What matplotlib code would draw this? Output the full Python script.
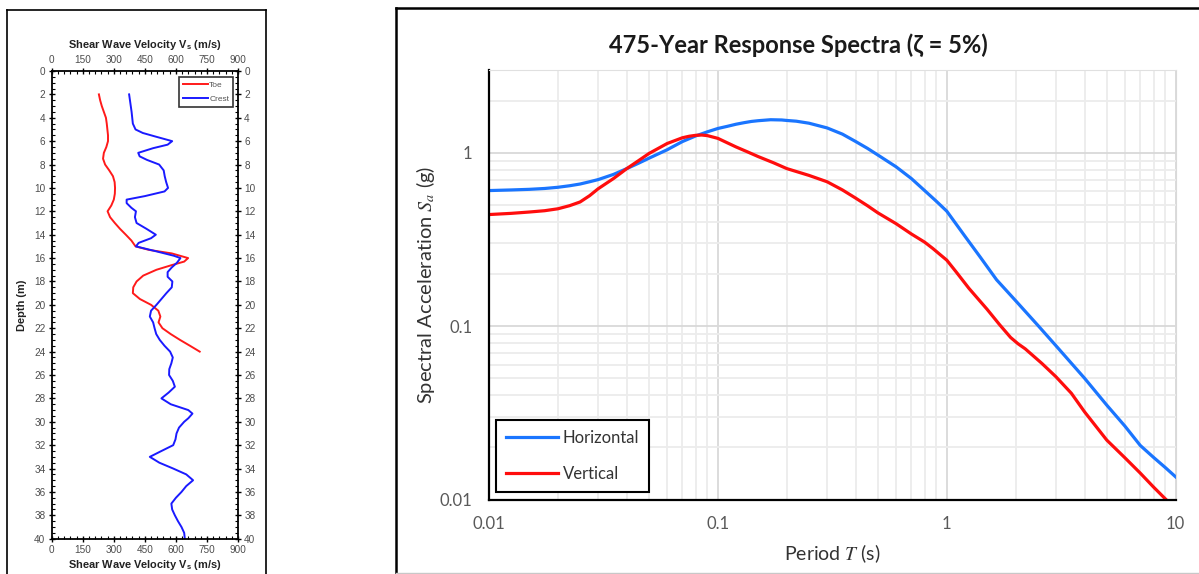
"""Shear wave velocity profile + 475-year response spectra (two-panel composite)."""

import matplotlib
matplotlib.use("Agg")
import matplotlib.pyplot as plt
from matplotlib.lines import Line2D
from matplotlib.ticker import FixedLocator, NullFormatter, MultipleLocator

plt.rcParams["mathtext.fontset"] = "custom"
plt.rcParams["mathtext.it"] = "STIXGeneral:italic"
plt.rcParams["mathtext.rm"] = "Lato"
plt.rcParams["mathtext.bf"] = "Liberation Sans:bold"

# === Vs profile (left) ===
depth_toe = [2, 2.5, 3, 3.5, 4, 4.5, 5, 5.5, 6, 6.5, 7, 7.5, 8, 8.5, 9, 9.5, 10, 10.5,
             11, 11.5, 12, 12.5, 13, 13.5, 14, 14.5, 15, 15.3, 15.6, 16, 16.3, 16.6,
             17, 17.5, 18, 18.5, 19, 19.5, 20, 20.5, 21, 21.5, 22, 22.5, 23, 23.5, 24]
vs_toe = [228, 234, 242, 252, 262, 266, 269, 272, 272, 264, 252, 248, 258, 278, 296,
          304, 306, 305, 300, 288, 270, 282, 305, 330, 358, 385, 405, 470, 580, 659,
          640, 580, 506, 442, 410, 394, 392, 426, 480, 515, 525, 516, 535, 575, 620,
          668, 715]

depth_crest = [2, 2.5, 3, 3.5, 4, 4.5, 5, 5.3, 5.6, 6, 6.3, 6.6, 7, 7.3, 7.6, 8, 8.5, 9,
               9.5, 10, 10.3, 10.7, 11, 11.3, 11.7, 12, 12.5, 13, 13.5, 14, 14.3, 14.7,
               15, 15.4, 15.8, 16, 16.4, 16.8, 17.2, 17.6, 18, 18.5, 19, 19.5, 20,
               20.5, 21, 21.5, 22, 22.5, 23, 23.5, 24, 24.5, 25, 25.5, 26, 26.5, 27,
               27.5, 28, 28.5, 29, 29.3, 29.7, 30, 30.5, 31, 31.5, 32, 32.5, 33, 33.5,
               34, 34.5, 35, 35.5, 36, 36.5, 37, 37.5, 38, 38.5, 39, 39.5, 40]
vs_crest = [374, 378, 382, 386, 389, 392, 405, 440, 500, 582, 560, 490, 418, 425, 460,
            519, 541, 546, 553, 562, 545, 450, 362, 362, 385, 407, 402, 410, 458, 503,
            480, 420, 407, 500, 590, 622, 605, 580, 560, 560, 583, 580, 554, 530, 506,
            480, 474, 490, 497, 505, 522, 545, 572, 585, 578, 568, 567, 585, 595, 565,
            530, 575, 660, 680, 660, 640, 615, 603, 598, 587, 530, 474, 520, 587, 650,
            683, 650, 627, 600, 578, 582, 595, 610, 627, 640, 643]

# === Response spectra (right) ===
period_h = [0.01, 0.0125, 0.015, 0.0175, 0.02, 0.0225, 0.025, 0.0275, 0.03, 0.035,
            0.04, 0.045, 0.05, 0.06, 0.07, 0.08, 0.09, 0.1, 0.11, 0.12, 0.13, 0.14,
            0.15, 0.17, 0.19, 0.2, 0.22, 0.25, 0.3, 0.35, 0.4, 0.45, 0.5, 0.6, 0.7,
            0.8, 0.9, 1.0, 1.2, 1.4, 1.65, 2.0, 2.5, 3.0, 4.0, 5.0, 6.0, 7.0, 8.0, 9.0,
            10.0]
sa_h = [0.605, 0.61, 0.615, 0.622, 0.632, 0.645, 0.66, 0.68, 0.70, 0.75, 0.81, 0.87,
        0.93, 1.04, 1.16, 1.25, 1.32, 1.38, 1.42, 1.46, 1.49, 1.515, 1.53, 1.55, 1.545,
        1.535, 1.52, 1.48, 1.39, 1.28, 1.16, 1.06, 0.97, 0.83, 0.71, 0.605, 0.525,
        0.46, 0.33, 0.25, 0.185, 0.14, 0.101, 0.077, 0.050, 0.035, 0.0265, 0.0205,
        0.0175, 0.0153, 0.0135]

period_v = [0.01, 0.0125, 0.015, 0.0175, 0.02, 0.0225, 0.025, 0.0275, 0.03, 0.035,
            0.04, 0.045, 0.05, 0.06, 0.07, 0.075, 0.08, 0.085, 0.09, 0.1, 0.11, 0.12,
            0.135, 0.15, 0.175, 0.2, 0.25, 0.3, 0.35, 0.4, 0.45, 0.5, 0.6, 0.7, 0.8,
            0.87, 0.93, 1.0, 1.1, 1.25, 1.5, 1.7, 1.9, 2.05, 2.2, 2.6, 3.0, 3.5, 4.0,
            5.0, 6.0, 7.0, 8.0, 9.0, 10.0]
sa_v = [0.44, 0.447, 0.455, 0.463, 0.475, 0.495, 0.52, 0.565, 0.62, 0.71, 0.81, 0.90,
        0.99, 1.13, 1.22, 1.245, 1.26, 1.265, 1.255, 1.21, 1.14, 1.08, 1.01, 0.95,
        0.875, 0.81, 0.74, 0.68, 0.61, 0.547, 0.495, 0.45, 0.39, 0.34, 0.305, 0.28,
        0.26, 0.24, 0.205, 0.165, 0.125, 0.102, 0.086, 0.079, 0.074, 0.061, 0.051,
        0.041, 0.032, 0.022, 0.0174, 0.0142, 0.0118, 0.0101, 0.0088]

W, H = 1199, 574
fig = plt.figure(figsize=(W / 100, H / 100), dpi=100)


def fx(px):
    return px / W


def fy(py):
    return 1 - py / H


# panel borders
fig.add_artist(Line2D([fx(7), fx(7)], [fy(10), -0.01], color="black", lw=1.2))
fig.add_artist(Line2D([fx(7), fx(266)], [fy(10), fy(10)], color="black", lw=1.2))
fig.add_artist(Line2D([fx(266), fx(266)], [fy(10), -0.01], color="black", lw=1.2))
fig.add_artist(Line2D([fx(396), fx(396)], [fy(7.5), fy(573)], color="black", lw=1.8))
fig.add_artist(Line2D([fx(396), 1.01], [fy(7.5), fy(7.5)], color="black", lw=1.8))
fig.add_artist(Line2D([fx(396), 1.01], [fy(573), fy(573)], color="#c8c8c8", lw=1.0))

# --- Left: Vs profile ---
ax1 = fig.add_axes([fx(51.7), fy(538.7), fx(238 - 51.7), (538.7 - 71) / H])
ax1.plot(vs_toe, depth_toe, color="#ff1a1a", lw=1.4, label="Toe")
ax1.plot(vs_crest, depth_crest, color="#1a1aff", lw=1.4, label="Crest")
ax1.set_xlim(0, 900)
ax1.set_ylim(40, 0)
ax1.xaxis.set_major_locator(MultipleLocator(150))
ax1.xaxis.set_minor_locator(MultipleLocator(30))
ax1.yaxis.set_major_locator(MultipleLocator(2))
ax1.yaxis.set_minor_locator(MultipleLocator(0.5))
ax1.tick_params(which="major", direction="inout", length=5, width=1, top=True,
                right=True, labeltop=True, labelright=True, labelsize=7.2,
                labelcolor="#4d4d4d", pad=2)
ax1.tick_params(which="minor", direction="in", length=2, width=0.8, top=True,
                right=True)
for sp in ax1.spines.values():
    sp.set_linewidth(1.3)
lab_kw = dict(family="Liberation Sans", fontsize=7.9, fontweight="bold", color="#222222")
ax1.set_xlabel(r"Shear Wave Velocity $\mathbf{V_s}$ (m/s)", labelpad=2, **lab_kw)
ax1.text(0.5, 1 + 26 / 467.7, r"Shear Wave Velocity $\mathbf{V_s}$ (m/s)",
         transform=ax1.transAxes, ha="center", va="center", **lab_kw)
ax1.set_ylabel("Depth (m)", **lab_kw)
ax1.yaxis.set_label_coords(-0.135, 0.5)
leg1 = ax1.legend(loc="upper right", bbox_to_anchor=(0.973, 0.987), fontsize=6,
                  frameon=True, fancybox=False, handlelength=3.0, borderaxespad=0,
                  labelspacing=0.8, handletextpad=0.2, borderpad=0.45)
leg1.get_frame().set_edgecolor("black")
leg1.get_frame().set_linewidth(1.2)
for t in leg1.get_texts():
    t.set_color("#555555")
    t.set_family("Liberation Sans")
for t in ax1.get_xticklabels() + ax1.get_yticklabels():
    t.set_family("Liberation Sans")

# --- Right: response spectra ---
ax2 = fig.add_axes([fx(489), fy(499.5), fx(1175.7 - 489), (499.5 - 70) / H])
ax2.set_xscale("log")
ax2.set_yscale("log")
ax2.set_xlim(0.01, 10)
ax2.set_ylim(0.01, 3)
ax2.xaxis.set_major_locator(FixedLocator([0.01, 0.1, 1, 10]))
ax2.yaxis.set_major_locator(FixedLocator([0.01, 0.1, 1]))
ax2.xaxis.set_minor_locator(FixedLocator(
    [m * d for d in (0.01, 0.1, 1) for m in range(2, 10)]))
ax2.yaxis.set_minor_locator(FixedLocator(
    [m * d for d in (0.01, 0.1, 1) for m in range(2, 10)]))
ax2.xaxis.set_minor_formatter(NullFormatter())
ax2.yaxis.set_minor_formatter(NullFormatter())
ax2.set_xticklabels(["0.01", "0.1", "1", "10"])
ax2.set_yticklabels(["0.01", "0.1", "1"])
ax2.tick_params(which="both", length=0, labelsize=12, labelcolor="#595959")
ax2.tick_params(axis="x", pad=12)
ax2.tick_params(axis="y", pad=12)
for t in ax2.get_xticklabels() + ax2.get_yticklabels():
    t.set_family("Lato")
ax2.grid(which="major", color="#d9d9d9", lw=1.3)
ax2.grid(which="minor", color="#ececec", lw=1.3)
ax2.set_axisbelow(True)
ax2.spines["left"].set_linewidth(1.6)
ax2.spines["bottom"].set_linewidth(1.6)
ax2.spines["top"].set_color("#e0e0e0")
ax2.spines["right"].set_color("#d9d9d9")

ax2.plot(period_h, sa_h, color="#1a75ff", lw=2.3, label="Horizontal")
ax2.plot(period_v, sa_v, color="#ff0d0d", lw=2.3, label="Vertical")

ax2.set_xlabel(r"Period $T$ (s)", family="Lato", fontsize=14, color="#333333",
               labelpad=7)
ax2.set_ylabel(r"Spectral Acceleration $S_a$ (g)", family="Lato", fontsize=14.5,
               color="#333333", labelpad=2)
fig.text(fx(798), fy(45), "475-Year Response Spectra (ζ = 5%)", family="Lato",
         fontsize=17, fontweight="bold", ha="center", va="center", color="#1a1a1a")

leg2 = ax2.legend(loc="lower left", bbox_to_anchor=(7 / 686.7, 7.5 / 429.5),
                  fontsize=12, frameon=True, fancybox=False, borderaxespad=0,
                  handlelength=3.1, handletextpad=0.3, labelspacing=1.2,
                  borderpad=0.6, framealpha=1)
leg2.get_frame().set_edgecolor("black")
leg2.get_frame().set_linewidth(1.5)
for t in leg2.get_texts():
    t.set_family("Lato")
    t.set_color("#333333")

fig.savefig("out.png", dpi=100)
